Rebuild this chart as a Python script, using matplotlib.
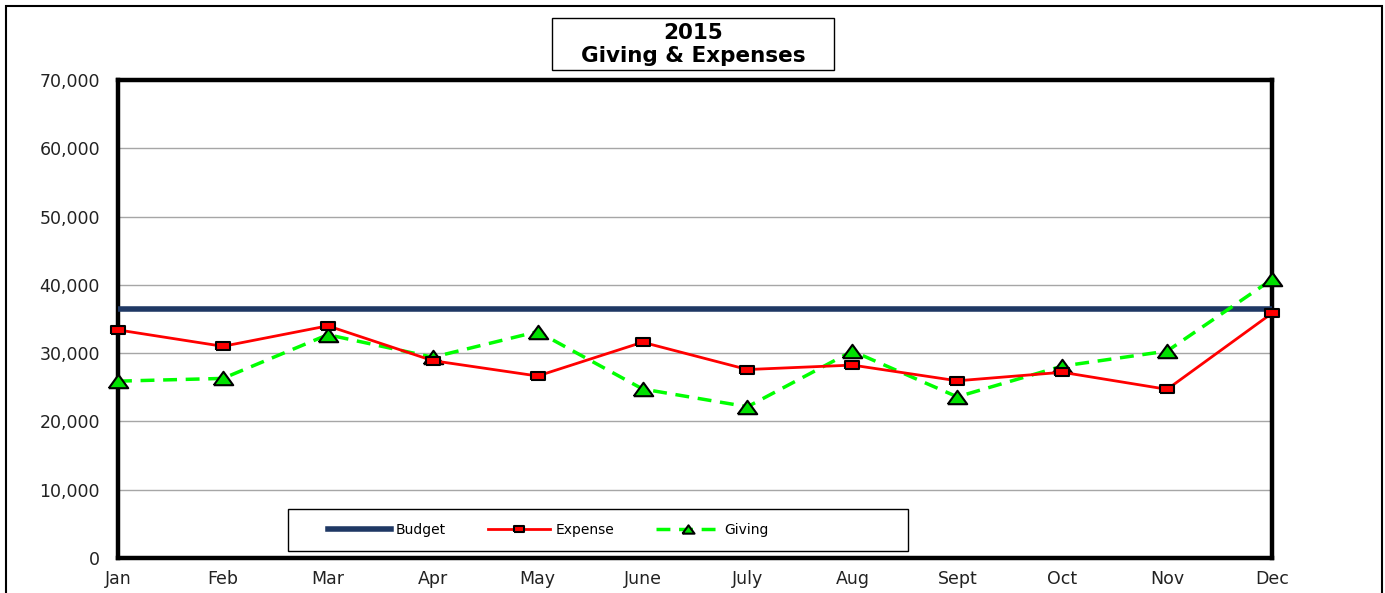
import numpy as np
import matplotlib.pyplot as plt
from matplotlib.patches import Rectangle

months = ["Jan", "Feb", "Mar", "Apr", "May", "June", "July", "Aug", "Sept", "Oct", "Nov", "Dec"]
budget = [36400] * 12
expense = [33400, 31000, 34000, 28900, 26650, 31600, 27600, 28250, 25950, 27200, 24700, 35850]
giving = [25900, 26300, 32700, 29400, 33150, 24750, 22150, 30300, 23600, 28100, 30300, 40800]
y_ticks = [0, 10000, 20000, 30000, 40000, 50000, 60000, 70000]

plt.rcParams['font.family'] = ['DejaVu Sans']

# Excel-like stretched markers
square = [(-1.7, -1), (1.7, -1), (1.7, 1), (-1.7, 1), (-1.7, -1)]
triangle = [(-1.45, -1), (1.45, -1), (0, 1), (-1.45, -1)]

fig = plt.figure(figsize=(13.85, 5.93), dpi=100)
ax = fig.add_axes([118 / 1385, 1 - 558 / 593, 1154 / 1385, 478 / 593])

x = np.arange(len(months))
ax.plot(x, budget, color='#1f3864', lw=4, label='Budget', zorder=3)
ax.plot(x, expense, color='red', lw=2, marker=square, markersize=10.5,
        markerfacecolor='red', markeredgecolor='black', markeredgewidth=1.5,
        label='Expense', clip_on=False, zorder=5)
ax.plot(x, giving, color='#00ff00', lw=2.5, ls=(0, (4, 2.5)), marker=triangle, markersize=14,
        markerfacecolor='#00e000', markeredgecolor='black', markeredgewidth=1.5,
        label='Giving', clip_on=False, zorder=4)

ax.set_xlim(0, 11)
ax.set_ylim(0, 70000)
ax.set_xticks(x)
ax.set_xticklabels(months)
ax.set_yticks(y_ticks)
ax.set_yticklabels([f"{v:,}" for v in y_ticks])
ax.tick_params(axis='both', length=0, labelsize=12.5, colors='#222222')
ax.tick_params(axis='y', pad=13)
ax.tick_params(axis='x', pad=9)
ax.grid(axis='y', color='#a6a6a6', lw=1)
ax.set_axisbelow(True)
for s in ax.spines.values():
    s.set_linewidth(3.2)
    s.set_color('black')

# legend box drawn separately, entries sit left of centre as in the original
ax.add_patch(Rectangle((0.147, 0.0146), 0.538, 0.088, transform=ax.transAxes,
                       facecolor='white', edgecolor='black', lw=1, zorder=6))
leg = ax.legend(loc='center left', ncol=3, bbox_to_anchor=(0.182, 0.0586),
                handlelength=4.5, handletextpad=0.4, columnspacing=3.0,
                markerscale=0.62, fontsize=10, frameon=False,
                borderpad=0, borderaxespad=0)
leg.set_zorder(7)

fig.patches.append(Rectangle((552 / 1385, 1 - 70 / 593), 282 / 1385, 52 / 593,
                             transform=fig.transFigure, facecolor='white', edgecolor='black', lw=1))
fig.text(693 / 1385, 1 - 44.5 / 593, "2015\nGiving & Expenses", ha='center', va='center',
         fontsize=15.5, fontweight='bold', linespacing=1.2)

fig.patches.append(Rectangle((6 / 1385, -0.1), 1376 / 1385, 1.1 - 6 / 593,
                             transform=fig.transFigure, fill=False, edgecolor='black', lw=1.5))

fig.savefig('out.png', dpi=100)
